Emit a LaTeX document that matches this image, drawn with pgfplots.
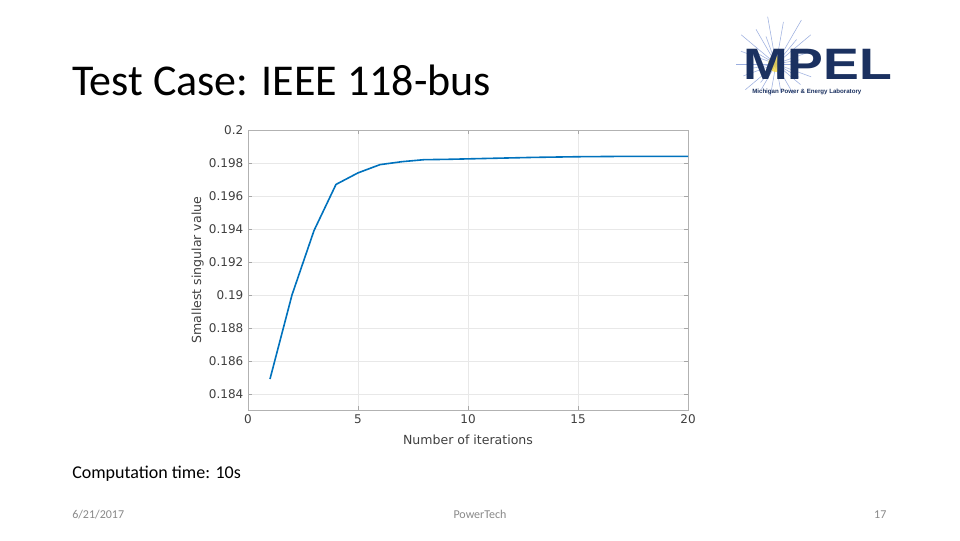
\documentclass[border=0pt]{standalone}
\usepackage{pgfplots}
\pgfplotsset{compat=1.18}
\usepackage{fontspec}
\setmainfont{Carlito}
\newfontfamily\chartfont{DejaVu Sans}
\newfontfamily\logofont{Liberation Sans}
\definecolor{mblue}{HTML}{0072BD}
\definecolor{navy}{HTML}{1B3160}
\definecolor{axgray}{HTML}{404040}
\definecolor{foot}{HTML}{898989}
\begin{document}
\begin{tikzpicture}
\fill[white] (0,0) rectangle (720pt,-405pt);
% title
\node[anchor=west, inner sep=0pt, font=\fontsize{33}{38}\selectfont] at (54pt,-60pt) {Test Case: IEEE 118-bus};
% logo
\begin{scope}[shift={(582pt,-48pt)}]
  \foreach \a/\l in {0/26,20/30,40/34,60/38,80/32,100/36,120/30,140/34,160/28,180/30,200/26,220/30,240/22,260/24,280/22,300/26,320/24,340/28,10/18,50/24,110/22,150/20,190/20,230/18,330/20}{
    \draw[cyan!40!blue!40, line width=0.4pt] (0,0) -- (\a:\l pt);
  }
  \fill[yellow!70!orange, opacity=0.6] (0,0) circle (6pt);
\end{scope}
\node[anchor=west, inner sep=0pt, text=navy, font=\logofont\bfseries\fontsize{33}{36}\selectfont, xscale=1.22] at (557pt,-48pt) {MPEL};
\node[anchor=west, inner sep=0pt, text=navy, font=\logofont\bfseries\fontsize{4.6}{5}\selectfont] at (564pt,-69pt) {Michigan Power \& Energy Laboratory};
% chart
\begin{axis}[
  at={(186pt,-307.5pt)}, anchor=south west,
  scale only axis, width=330pt, height=210pt,
  xmin=0, xmax=20, ymin=0.18302, ymax=0.2,
  xtick={0,5,10,15,20},
  ytick={0.184,0.186,0.188,0.19,0.192,0.194,0.196,0.198,0.2},
  yticklabel style={/pgf/number format/.cd, fixed, precision=3},
  scaled y ticks=false,
  /pgf/number format/assume math mode=true,
  ticklabel style={font=\chartfont\fontsize{9}{10}\selectfont, text=axgray},
  label style={font=\chartfont\fontsize{9.4}{11}\selectfont, text=axgray},
  xlabel={Number of iterations},
  ylabel={Smallest singular value},
  xlabel style={yshift=-1.5pt},
  ylabel style={yshift=-3pt},
  grid=major,
  major grid style={gray!18, line width=0.4pt},
  axis line style={gray!60, line width=0.5pt},
  tick style={gray!70},
  tick align=inside,
  major tick length=3pt,
  xtick pos=both, ytick pos=both,
]
\addplot[mblue, line width=1.2pt] coordinates {
(1,0.1849) (2,0.1900) (3,0.1939) (4,0.1967) (5,0.1974) (6,0.1979) (7,0.19808)
(8,0.1982) (9,0.19822) (10,0.19825) (11,0.19828) (12,0.19831) (13,0.19834)
(14,0.19836) (15,0.19838) (16,0.19839) (17,0.1984) (18,0.1984) (19,0.1984) (20,0.1984)
};
\end{axis}
% bottom text
\node[anchor=west, inner sep=0pt, font=\fontsize{13.5}{16}\selectfont] at (54pt,-355.5pt) {Computation time: 10s};
\node[anchor=west, inner sep=0pt, text=foot, font=\fontsize{9}{11}\selectfont] at (54pt,-386pt) {6/21/2017};
\node[anchor=center, inner sep=0pt, text=foot, font=\fontsize{9}{11}\selectfont] at (360pt,-386pt) {PowerTech};
\node[anchor=east, inner sep=0pt, text=foot, font=\fontsize{9}{11}\selectfont] at (665pt,-386pt) {17};
\end{tikzpicture}
\end{document}
